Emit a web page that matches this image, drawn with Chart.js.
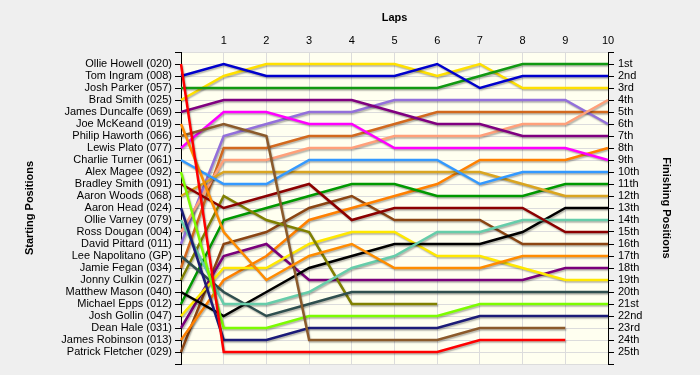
<!DOCTYPE html>
<html><head><meta charset="utf-8">
<script src="https://cdn.jsdelivr.net/npm/chart.js@4"></script>
<style>html,body{margin:0;padding:0;background:#efefef;}</style>
</head><body>
<canvas id="c" width="700" height="375"></canvas>
<script>
const laps = ['0','1','2','3','4','5','6','7','8','9','10'];
const drivers = ['Ollie Howell (020)','Tom Ingram (008)','Josh Parker (057)','Brad Smith (025)','James Duncalfe (069)','Joe McKeand (019)','Philip Haworth (066)','Lewis Plato (077)','Charlie Turner (061)','Alex Magee (092)','Bradley Smith (091)','Aaron Woods (068)','Aaron Head (024)','Ollie Varney (079)','Ross Dougan (004)','David Pittard (011)','Lee Napolitano (GP)','Jamie Fegan (034)','Jonny Culkin (027)','Matthew Mason (040)','Michael Epps (012)','Josh Gollin (047)','Dean Hale (031)','James Robinson (013)','Patrick Fletcher (029)'];
const finishLabels = ['1st','2nd','3rd','4th','5th','6th','7th','8th','9th','10th','11th','12th','13th','14th','15th','16th','17th','18th','19th','20th','21st','22nd','23rd','24th','25th'];

// positions per lap (lap 0 .. lap 10)
const ollieHowell    = [1,25,25,25,25,25,25,24,24,24];
const tomIngram      = [2,1,2,2,2,2,1,3,2,2,2];
const joshParker     = [3,3,3,3,3,3,3,2,1,1,1];
const bradSmith      = [4,2,1,1,1,1,2,1,3,3,3];
const jamesDuncalfe  = [5,4,4,4,4,5,6,6,7,7,7];
const joeMcKeand     = [6,15,19,17,16,18,18,18,17,17,17];
const philipHaworth  = [7,6,7,24,24,24,24,23,23,23];
const lewisPlato     = [8,5,5,6,6,8,8,8,8,8,9];
const charlieTurner  = [9,11,11,9,9,9,9,11,10,10,10];
const alexMagee      = [10,23,23,22,22,22,22,21,21,21,21];
const bradleySmith   = [11,13,12,11,14,13,13,13,13,15,15];
const aaronWoods     = [12,10,10,10,10,10,10,10,11,12,12];
const aaronHead      = [13,24,24,23,23,23,23,22,22,22,22];
const ollieVarney    = [14,21,21,20,18,17,15,15,14,14,14];
const rossDougan     = [15,9,9,8,8,7,7,7,6,6,4];
const davidPittard   = [16,7,6,5,5,4,4,4,4,4,6];
const leeNapolitano  = [17,20,22,21,20,20,20,20,20,20,20];
const jamieFegan     = [18,8,8,7,7,6,5,5,5,5,5];
const jonnyCulkin    = [19,12,14,15,21,21,21];
const matthewMason   = [20,22,20,18,17,16,16,16,15,13,13];
const michaelEpps    = [21,14,13,12,11,11,12,12,12,11,11];
const joshGollin     = [22,18,18,16,15,15,17,17,18,19,19];
const deanHale       = [23,17,16,19,19,19,19,19,19,18,18];
const jamesRobinson  = [24,19,17,14,13,12,11,9,9,9,8];
const patrickFletcher= [25,16,15,13,12,14,14,14,16,16,16];

const series = [ollieHowell,tomIngram,joshParker,bradSmith,jamesDuncalfe,joeMcKeand,philipHaworth,lewisPlato,charlieTurner,alexMagee,bradleySmith,aaronWoods,aaronHead,ollieVarney,rossDougan,davidPittard,leeNapolitano,jamieFegan,jonnyCulkin,matthewMason,michaelEpps,joshGollin,deanHale,jamesRobinson,patrickFletcher];
const colors = ['#ff0000','#0000cc','#119911','#ffe000','#800080','#ff8c00','#8b5a2b','#ff00ff','#3399ff','#7cfc00','#8b0000','#daa520','#1c1c78','#66cdaa','#ffa07a','#9370db','#2f4f4f','#d2691e','#808000','#000000','#009900','#ffe800','#7a007a','#ff8000','#8b4513'];

Chart.defaults.font.family = '"Liberation Sans", Arial, sans-serif';
Chart.defaults.font.size = 11;
Chart.defaults.color = '#000';

const bg = {id:'bg', beforeDraw(chart){
  const {ctx, chartArea:a} = chart;
  ctx.save();
  ctx.fillStyle = '#efefef'; ctx.fillRect(0,0,chart.width,chart.height);
  ctx.fillStyle = '#fffff0'; ctx.fillRect(a.left,a.top,a.right-a.left,a.bottom-a.top);
  ctx.restore();
}};
const shadow = {id:'shadow',
  beforeDatasetsDraw(chart){ const c=chart.ctx; c.save(); c.shadowColor='rgba(0,0,0,0.3)'; c.shadowOffsetX=1; c.shadowOffsetY=1.5; c.shadowBlur=1.5; },
  afterDatasetsDraw(chart){ chart.ctx.restore(); }
};

new Chart(document.getElementById('c'), {
  type:'line',
  data:{
    labels: laps,
    datasets: series.map((d,i)=>({label:drivers[i], data:d, borderColor:colors[i], backgroundColor:colors[i], borderWidth:2.5, pointRadius:0, tension:0, fill:false, yAxisID:'y'}))
  },
  options:{
    responsive:false, animation:false,
    layout:{padding:{bottom:11}},
    plugins:{legend:{display:false}, tooltip:{enabled:false}},
    scales:{
      x:{position:'top', offset:false,
        ticks:{autoSkip:false, maxRotation:0, padding:4, callback:(v,i)=> i===0?'':laps[i]},
        grid:{color:'#dcdcdc', drawTicks:false}, border:{display:false},
        title:{display:true, text:'Laps', font:{weight:'bold', size:11}, padding:{top:11,bottom:0}},
        afterFit(s){ s.height = 52; }
      },
      y:{position:'left', min:0, max:26, reverse:true,
        ticks:{stepSize:1, autoSkip:false, padding:3, callback:v=> (v>=1&&v<=25)?drivers[v-1]:''},
        grid:{color:'#dcdcdc', tickLength:6, tickColor:'#000'}, border:{color:'#000', width:1},
        title:{display:true, text:'Starting Positions', font:{weight:'bold', size:11}, padding:{top:23}},
        afterFit(s){ s.width = 181; }
      },
      y1:{position:'right', min:0, max:26, reverse:true,
        ticks:{stepSize:1, autoSkip:false, padding:4, callback:v=> (v>=1&&v<=25)?finishLabels[v-1]:''},
        grid:{drawOnChartArea:false, tickLength:6, tickColor:'#000'}, border:{color:'#000', width:1},
        title:{display:true, text:'Finishing Positions', font:{weight:'bold', size:11}, padding:{top:27}},
        afterFit(s){ s.width = 92; }
      }
    }
  },
  plugins:[bg, shadow]
});
</script>
</body></html>
